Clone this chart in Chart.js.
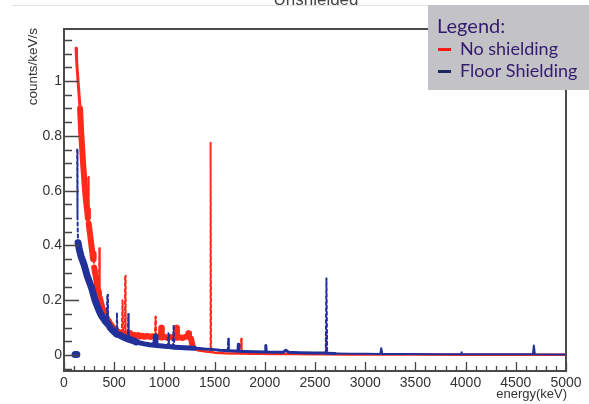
<!DOCTYPE html>
<html>
<head>
<meta charset="utf-8">
<script src="https://cdn.jsdelivr.net/npm/chart.js@4.4.1/dist/chart.umd.min.js"></script>
<style>
html,body{margin:0;padding:0;background:#fff;}
canvas{display:block;}
</style>
</head>
<body>
<canvas id="c" width="589" height="404"></canvas>
<script>
const chartTitle = 'Unshielded';
const xAxisTitle = 'energy(keV)';
const yAxisTitle = 'counts/keV/s';
const legendTitle = 'Legend:';
const seriesNames = ['No shielding', 'Floor Shielding'];

const xTickValues = [0, 500, 1000, 1500, 2000, 2500, 3000, 3500, 4000, 4500, 5000];
const xTickLabels = ['0', '500', '1000', '1500', '2000', '2500', '3000', '3500', '4000', '4500', '5000'];
const yTickValues = [0, 0.2, 0.4, 0.6, 0.8, 1];
const yTickLabels = ['0', '0.2', '0.4', '0.6', '0.8', '1'];

const redEnergy = [120,125,130,140,150,160,170,180,190,200,210,220,230,238,242,246,260,270,280,290,295,300,310,320,330,340,348,352,356,370,380,400,420,440,460,480,500,520,540,560,575,583,590,605,609,614,640,660,680,700,720,740,760,780,800,830,860,880,905,911,916,940,965,969,974,1000,1030,1060,1090,1115,1120,1125,1150,1180,1210,1235,1238,1245,1265,1280,1300,1330,1360,1400,1430,1455,1460,1465,1500,1550,1600,1700,1760,1765,1770,1850,1950,2100,2300,2500,2608,2614,2620,2800,3000,3500,4000,4500,5000];
const redCounts = [1.12,1.08,1.05,1.00,0.95,0.90,0.82,0.76,0.70,0.65,0.60,0.56,0.53,0.50,0.65,0.48,0.44,0.41,0.38,0.35,0.37,0.32,0.30,0.28,0.25,0.23,0.215,0.39,0.21,0.19,0.175,0.155,0.14,0.128,0.115,0.105,0.095,0.09,0.086,0.082,0.08,0.20,0.078,0.077,0.29,0.076,0.075,0.08,0.072,0.074,0.07,0.073,0.068,0.071,0.067,0.07,0.066,0.069,0.066,0.14,0.065,0.068,0.065,0.10,0.064,0.067,0.063,0.066,0.062,0.064,0.10,0.063,0.066,0.062,0.067,0.07,0.08,0.066,0.06,0.035,0.022,0.018,0.016,0.014,0.012,0.011,0.775,0.011,0.009,0.008,0.007,0.006,0.006,0.06,0.006,0.005,0.005,0.004,0.004,0.003,0.003,0.08,0.003,0.002,0.002,0.002,0.001,0.001,0.001];

const blueEnergy = [110,128,129,131,133,136,140,150,160,170,185,200,215,230,245,260,275,290,305,320,335,350,365,380,400,415,425,432,438,460,480,500,520,527,533,560,590,620,636,640,644,680,720,760,800,850,905,911,916,950,1000,1035,1040,1045,1085,1092,1098,1150,1200,1250,1300,1350,1400,1450,1500,1550,1600,1630,1636,1642,1700,1732,1737,1742,1800,1900,2005,2010,2015,2100,2180,2210,2240,2350,2500,2607,2614,2621,2700,2850,3000,3150,3160,3170,3400,3700,3955,3960,3965,4300,4670,4680,4690,5000];
const blueCounts = [0.002,0.002,null,0.75,0.62,0.50,0.41,0.39,0.375,0.36,0.345,0.33,0.31,0.29,0.275,0.26,0.245,0.225,0.205,0.19,0.175,0.162,0.15,0.14,0.13,0.122,0.118,0.22,0.115,0.10,0.092,0.085,0.078,0.155,0.076,0.072,0.066,0.062,0.06,0.15,0.058,0.054,0.048,0.044,0.041,0.038,0.036,0.07,0.035,0.034,0.032,0.031,0.08,0.031,0.03,0.11,0.029,0.028,0.027,0.026,0.025,0.024,0.022,0.021,0.02,0.018,0.017,0.016,0.06,0.016,0.015,0.014,0.04,0.014,0.013,0.012,0.011,0.035,0.011,0.01,0.01,0.018,0.01,0.009,0.008,0.008,0.28,0.007,0.006,0.005,0.005,0.004,0.025,0.004,0.004,0.003,0.003,0.01,0.003,0.003,0.003,0.035,0.003,0.002];

const FONT = '"Liberation Sans", Arial, Helvetica, sans-serif';

function toPoints(xs, ys) { return xs.map((x, i) => ({ x: x, y: ys[i] })); }

function isSteep(ctx) {
  return Math.abs(ctx.p1.y - ctx.p0.y) > 12 && Math.abs(ctx.p1.x - ctx.p0.x) < 0.9;
}

const frameAndTicks = {
  id: 'frameAndTicks',
  afterDatasetsDraw(chart) {
    const { ctx, chartArea: a, scales } = chart;
    const xs = scales.x, ys = scales.y;
    ctx.save();
    ctx.strokeStyle = '#444';
    ctx.lineWidth = 1.3;
    ctx.beginPath();
    for (let v = -0.05; v <= 1.1501; v += 0.05) {
      const vv = Math.round(v * 100) / 100;
      const py = Math.round(ys.getPixelForValue(vv)) + 0.5;
      const major = Math.abs(vv * 5 - Math.round(vv * 5)) < 1e-6;
      const len = major ? 15 : 8;
      ctx.moveTo(a.left, py); ctx.lineTo(a.left + len, py);
    }
    for (let v = 0; v <= 5000; v += 100) {
      const px = Math.round(xs.getPixelForValue(v)) + 0.5;
      const len = (v % 500 === 0) ? 9 : 5;
      ctx.moveTo(px, a.bottom); ctx.lineTo(px, a.bottom - len);
    }
    ctx.stroke();
    ctx.lineWidth = 2;
    ctx.strokeStyle = '#4a4a4a';
    ctx.strokeRect(a.left, a.top, a.right - a.left, a.bottom - a.top);
    ctx.restore();
  },
  afterDraw(chart) {
    const { ctx, chartArea: a } = chart;
    ctx.save();
    ctx.strokeStyle = '#e2e2e2';
    ctx.lineWidth = 1;
    ctx.beginPath(); ctx.moveTo(12, 5.5); ctx.lineTo(428, 5.5); ctx.stroke();
    ctx.fillStyle = '#444';
    ctx.font = '17px ' + FONT;
    ctx.textAlign = 'center';
    ctx.textBaseline = 'alphabetic';
    ctx.fillText(chartTitle, 316, 5);
    ctx.fillStyle = '#333';
    ctx.font = '13px ' + FONT;
    ctx.textAlign = 'right';
    ctx.fillText(xAxisTitle, a.right + 1, 398);
    ctx.save();
    ctx.translate(37, a.top - 1);
    ctx.rotate(-Math.PI / 2);
    ctx.textAlign = 'right';
    ctx.font = '13.5px ' + FONT;
    ctx.fillText(yAxisTitle, 0, 0);
    ctx.restore();
    ctx.fillStyle = '#c3c3c7';
    ctx.fillRect(428, 5, 161, 85);
    ctx.fillStyle = '#321a6e';
    ctx.textAlign = 'left';
    ctx.font = '20px Lato, "Open Sans", sans-serif';
    ctx.fillText(legendTitle, 437, 33);
    ctx.font = '18px Lato, "Open Sans", sans-serif';
    ctx.fillText(seriesNames[0], 460, 55);
    ctx.fillText(seriesNames[1], 460, 77);
    ctx.fillStyle = '#ff1a1a';
    ctx.fillRect(438, 48, 13, 3);
    ctx.fillStyle = '#1b2a5c';
    ctx.fillRect(438, 70, 13, 3);
    ctx.restore();
  }
};

new Chart(document.getElementById('c'), {
  type: 'line',
  data: {
    datasets: [
      {
        label: seriesNames[1],
        data: toPoints(blueEnergy, blueCounts),
        borderColor: '#22309a',
        pointRadius: 0,
        tension: 0,
        spanGaps: false,
        borderJoinStyle: 'round',
        borderCapStyle: 'round',
        order: 0,
        segment: {
          borderWidth: ctx => {
            if (isSteep(ctx)) return 2;
            const x = ctx.p0.parsed.x;
            return x < 700 ? 7 : (x < 1300 ? 5 : (x < 2700 ? 3 : 2));
          },
          borderDash: ctx => isSteep(ctx) ? [3, 3] : undefined
        }
      },
      {
        label: seriesNames[0],
        data: toPoints(redEnergy, redCounts),
        borderColor: '#ff2a1a',
        pointRadius: 0,
        tension: 0,
        borderJoinStyle: 'round',
        borderCapStyle: 'round',
        order: 1,
        segment: {
          borderWidth: ctx => {
            if (isSteep(ctx)) return 2;
            const x = ctx.p0.parsed.x;
            return x < 160 ? 3 : (x < 1280 ? 6 : 2.5);
          },
          borderDash: ctx => isSteep(ctx) ? [3, 3] : undefined
        }
      }
    ]
  },
  options: {
    responsive: false,
    animation: false,
    devicePixelRatio: 1,
    layout: { padding: { top: 29, right: 23, left: 0, bottom: 0 } },
    plugins: { legend: { display: false }, tooltip: { enabled: false }, title: { display: false } },
    scales: {
      x: {
        type: 'linear',
        min: 0, max: 5000,
        afterBuildTicks: s => { s.ticks = xTickValues.map(v => ({ value: v })); },
        afterFit: s => { s.height = 33; },
        grid: { display: false, drawTicks: false },
        border: { display: false },
        ticks: {
          padding: 4, maxRotation: 0, autoSkip: false, color: '#333',
          font: { family: FONT, size: 14 },
          callback: (v, i) => xTickLabels[i]
        }
      },
      y: {
        type: 'linear',
        min: -0.058, max: 1.19,
        afterBuildTicks: s => { s.ticks = yTickValues.map(v => ({ value: v })); },
        afterFit: s => { s.width = 64; },
        grid: { display: false, drawTicks: false },
        border: { display: false },
        ticks: {
          padding: 2, autoSkip: false, color: '#333',
          font: { family: FONT, size: 14 },
          callback: (v, i) => yTickLabels[i]
        }
      }
    }
  },
  plugins: [frameAndTicks]
});
</script>
</body>
</html>
